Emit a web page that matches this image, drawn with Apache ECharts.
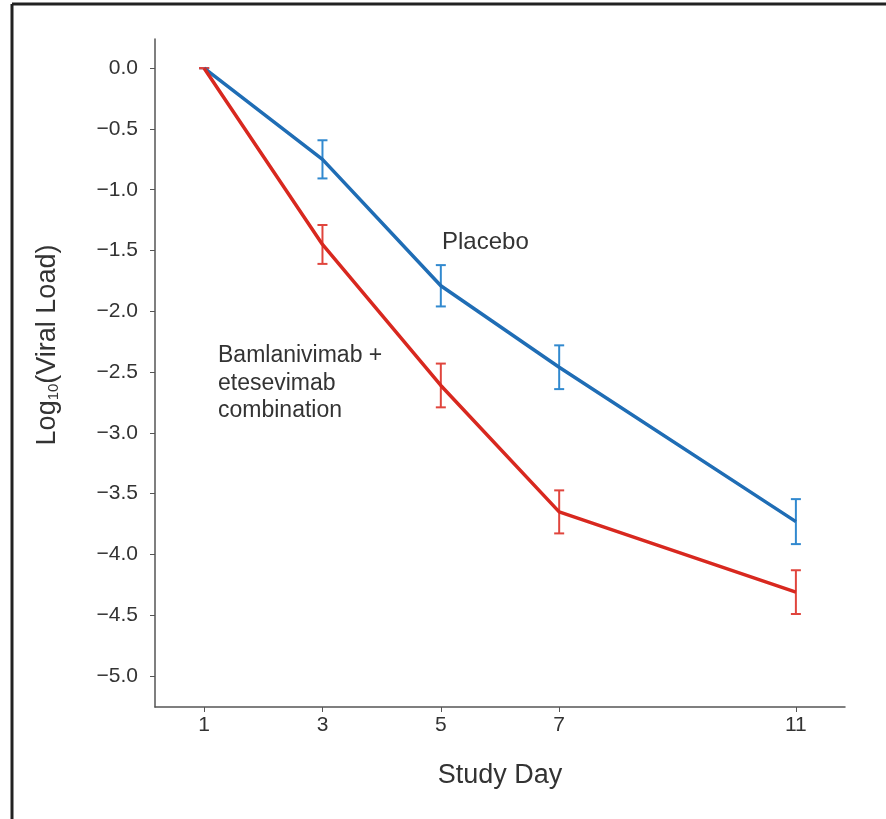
<!DOCTYPE html>
<html>
<head>
<meta charset="utf-8">
<script src="https://cdn.jsdelivr.net/npm/echarts@6/dist/echarts.min.js"></script>
<style>
  html, body { margin: 0; padding: 0; background: #fff; }
  #chart { width: 886px; height: 819px; }
</style>
</head>
<body>
<div id="chart"></div>
<script>
// Study days sampled
const days = [1, 3, 5, 7, 11];
// Mean change in log10 viral load from baseline, and error bar half-widths
const placeboMean = [0, -0.75, -1.79, -2.46, -3.73];
const placeboErr  = [0, 0.157, 0.17, 0.18, 0.185];
const comboMean   = [0, -1.45, -2.61, -3.65, -4.31];
const comboErr    = [0, 0.16, 0.18, 0.177, 0.18];
// Axis tick values
const xTicks = [1, 3, 5, 7, 11];
const yTicks = [0, -0.5, -1, -1.5, -2, -2.5, -3, -3.5, -4, -4.5, -5];

const FONT = '"Liberation Sans", Arial, sans-serif';
const BLUE = '#1f6db5', BLUE_ERR = '#3189cf';
const RED = '#d8281f', RED_ERR = '#e0453d';
const TEXT = '#333';

function pairs(xs, ys) { return xs.map((x, i) => [x, ys[i]]); }
function errRows(xs, m, e) { return xs.map((x, i) => [x, m[i] - e[i], m[i] + e[i]]); }

function errorBar(color) {
  return function (params, api) {
    const x = api.value(0);
    const lo = api.coord([x, api.value(1)]);
    const hi = api.coord([x, api.value(2)]);
    const cap = 5;
    const style = { stroke: color, lineWidth: 2 };
    return {
      type: 'group',
      children: [
        { type: 'line', shape: { x1: lo[0], y1: lo[1], x2: hi[0], y2: hi[1] }, style },
        { type: 'line', shape: { x1: lo[0] - cap, y1: lo[1], x2: lo[0] + cap, y2: lo[1] }, style },
        { type: 'line', shape: { x1: hi[0] - cap, y1: hi[1], x2: hi[0] + cap, y2: hi[1] }, style }
      ]
    };
  };
}

const chart = echarts.init(document.getElementById('chart'));
const axisColor = '#555';
chart.setOption({
  animation: false,
  backgroundColor: '#fff',
  grid: { left: 155, top: 39, right: 41, bottom: 112 },
  xAxis: {
    type: 'value', min: 0.17, max: 11.83,
    name: 'Study Day', nameLocation: 'middle', nameGap: 55,
    nameTextStyle: { fontFamily: FONT, fontSize: 27, color: TEXT },
    axisLine: { show: true, onZero: false, lineStyle: { color: axisColor, width: 1.5 } },
    axisTick: { show: true, length: 5, customValues: xTicks, lineStyle: { color: axisColor } },
    axisLabel: { customValues: xTicks, fontFamily: FONT, fontSize: 21, color: TEXT, margin: 8 },
    splitLine: { show: false }
  },
  yAxis: {
    type: 'value', min: -5.255, max: 0.24,
    axisLine: { show: true, onZero: false, lineStyle: { color: axisColor, width: 1.5 } },
    axisTick: { show: true, length: 5, customValues: yTicks, lineStyle: { color: axisColor } },
    axisLabel: {
      customValues: yTicks, fontFamily: FONT, fontSize: 21, color: TEXT, margin: 17,
      formatter: v => v.toFixed(1).replace('-', '\u2212')
    },
    splitLine: { show: false }
  },
  series: [
    { type: 'custom', renderItem: errorBar(BLUE_ERR), data: errRows(days, placeboMean, placeboErr), z: 2 },
    { type: 'custom', renderItem: errorBar(RED_ERR), data: errRows(days, comboMean, comboErr), z: 2 },
    { type: 'line', name: 'Placebo', data: pairs(days, placeboMean), showSymbol: false,
      lineStyle: { color: BLUE, width: 3.5 }, z: 3 },
    { type: 'line', name: 'Bamlanivimab + etesevimab combination', data: pairs(days, comboMean), showSymbol: false,
      lineStyle: { color: RED, width: 3.5 }, z: 4 }
  ],
  graphic: [
    // frame lines along the top and left edges
    { type: 'line', shape: { x1: 12, y1: 4, x2: 886, y2: 4 }, style: { stroke: '#222', lineWidth: 3 } },
    { type: 'line', shape: { x1: 12, y1: 4, x2: 12, y2: 819 }, style: { stroke: '#222', lineWidth: 3 } },
    // y-axis title with subscripted base
    { type: 'text', x: 48, y: 345, rotation: Math.PI / 2,
      style: {
        text: '{n|Log}{s|10}{n|(Viral Load)}',
        align: 'center', verticalAlign: 'middle',
        rich: {
          n: { fontFamily: FONT, fontSize: 27, fill: TEXT },
          s: { fontFamily: FONT, fontSize: 15, fill: TEXT, padding: [12, 0, 0, 0] }
        }
      } },
    { type: 'text', x: 442, y: 242,
      style: { text: 'Placebo', font: '24px ' + FONT, fill: TEXT, verticalAlign: 'middle' } },
    { type: 'text', x: 218, y: 342,
      style: { text: 'Bamlanivimab +\netesevimab\ncombination', font: '23px ' + FONT, fill: TEXT, lineHeight: 27.5 } }
  ]
});
</script>
</body>
</html>
